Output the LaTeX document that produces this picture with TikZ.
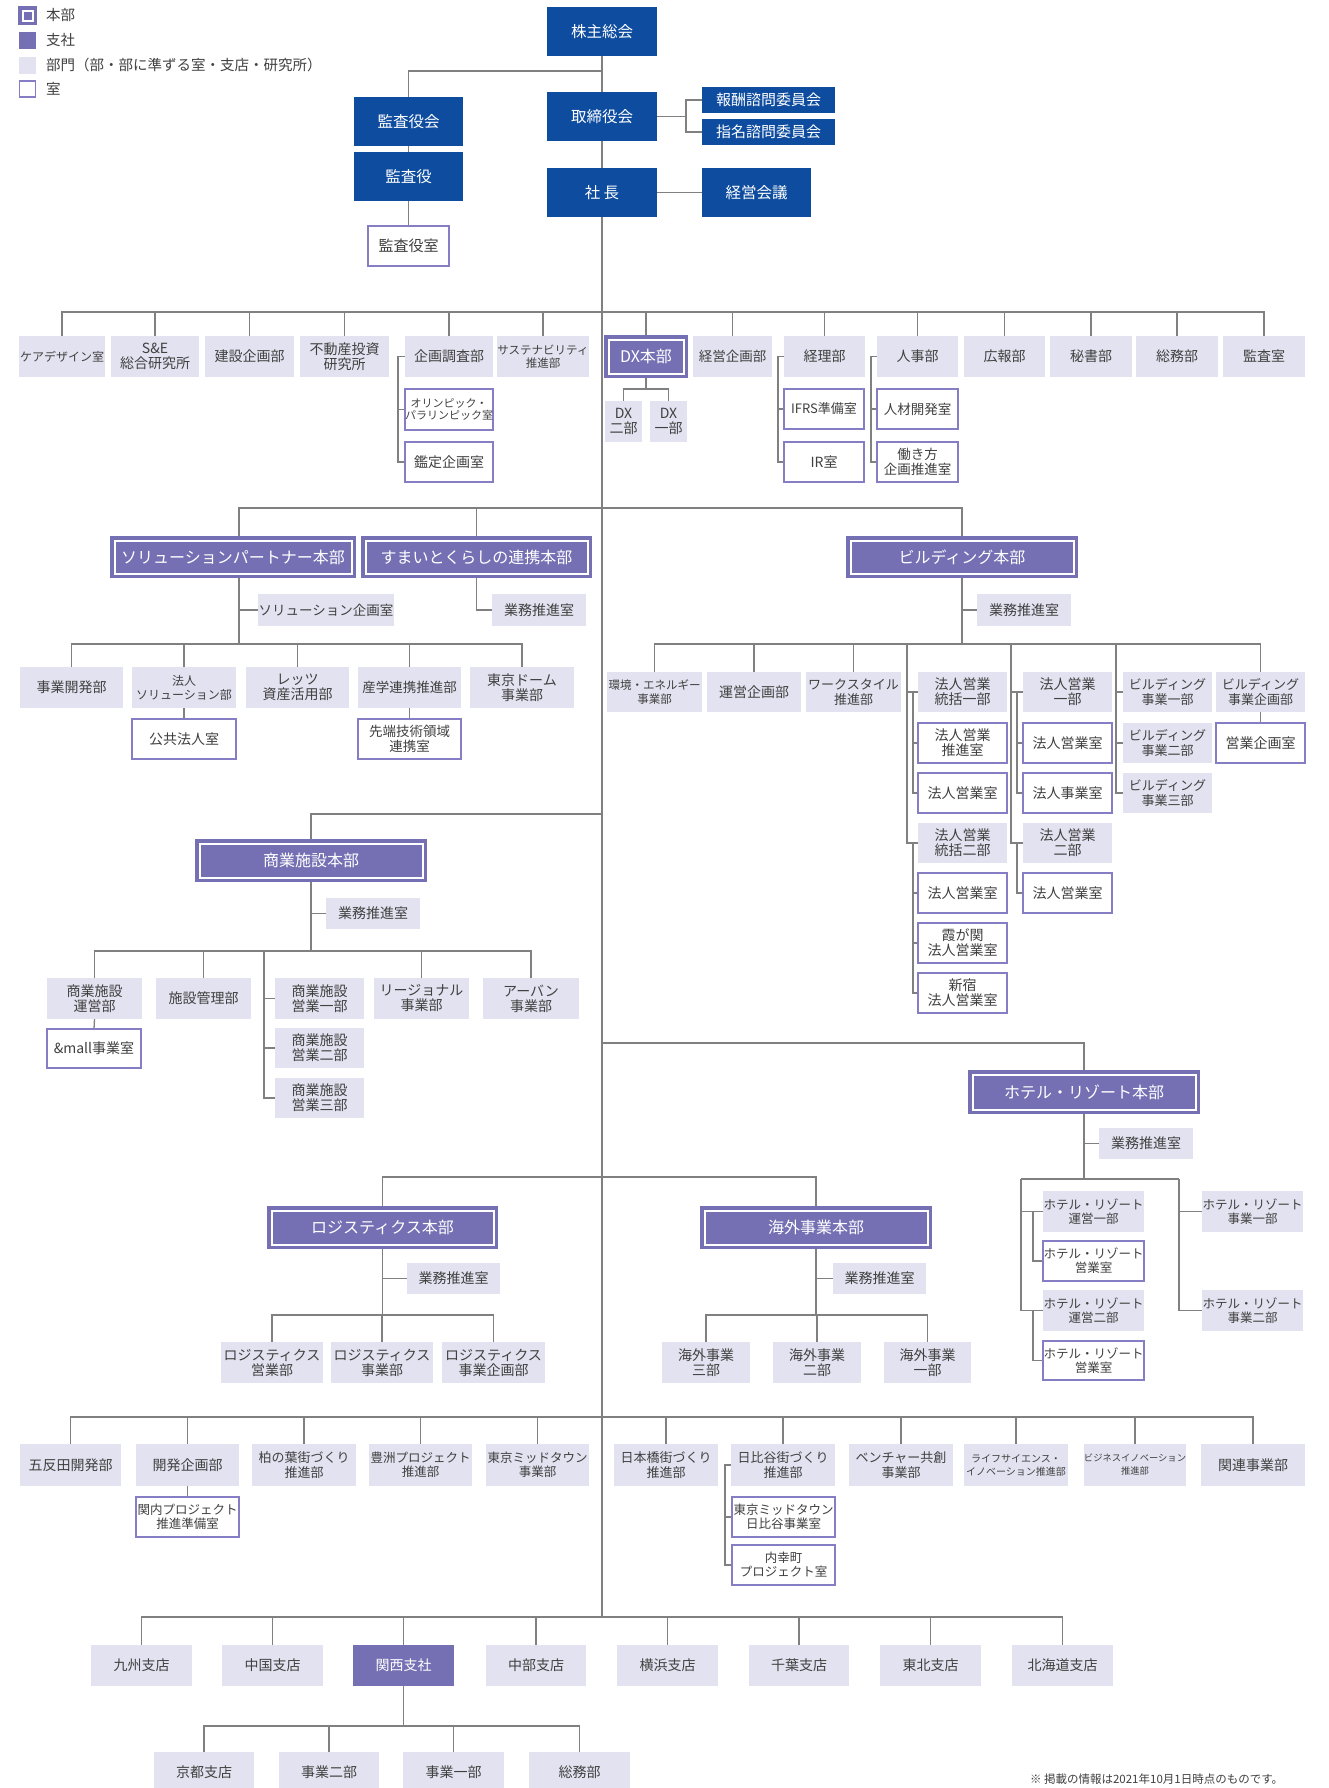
\documentclass[tikz,border=0pt]{standalone}
\usepackage{fontspec}
\setmainfont{Noto Sans CJK JP}
\definecolor{cblue}{RGB}{14,76,159}
\definecolor{cpur}{RGB}{117,112,179}
\definecolor{clight}{RGB}{227,226,240}
\definecolor{croom}{RGB}{133,126,196}
\definecolor{cline}{RGB}{128,128,128}
\definecolor{ctext}{RGB}{64,64,64}
\pgfdeclarelayer{back}
\pgfdeclarelayer{wires}
\pgfsetlayers{back,wires,main}
\newcommand\fs[2]{\fontsize{#1}{#2}\selectfont}
\newcommand\bx[7]{\node[#1, minimum width={#5-#3}, minimum height={#6-#4}] (#2) at ({(#3+#5)/2},{(#4+#6)/2}) {#7};}
\tikzset{
 sbase/.style={inner sep=0pt, outer sep=0pt, align=center, text=ctext, font=\fs{14}{15}},
 stop/.style={sbase, fill=cblue, text=white, font=\fs{15.5}{17}},
 shq/.style={sbase, fill=cpur, draw=cpur, line width=1.5pt, text=white, font=\fs{16}{18},
   path picture={\draw[white, line width=2pt] ([shift={(3.5pt,-3.5pt)}]path picture bounding box.north west) rectangle ([shift={(-3.5pt,3.5pt)}]path picture bounding box.south east);}},
 sdept/.style={sbase, fill=clight},
 sroom/.style={sbase, fill=white, draw=croom, line width=1.5pt},
 sbranch/.style={sbase, fill=cpur, text=white},
 sconn/.style={draw=cline, line width=1.3pt},
}
\begin{document}
\begin{tikzpicture}[x=1pt,y=-1pt]
\begin{pgfonlayer}{back}
\fill[white] (0,0) rectangle (1329,1788);
\end{pgfonlayer}
\useasboundingbox (0,0) rectangle (1329,1788);

% legend
\node[shq, minimum width=17, minimum height=17] (lg1) at (27.5,15.5) {};
\node[sbranch, minimum width=17, minimum height=17] (lg2) at (27.5,40) {};
\node[sdept, minimum width=17, minimum height=17] (lg3) at (27.5,65) {};
\node[sroom, minimum width=16, minimum height=16] (lg4) at (27.5,89) {};
\node[sbase, anchor=west, font=\fs{14.5}{16}] (lt1) at (46,15.5) {本部};
\node[sbase, anchor=west, font=\fs{14.5}{16}] (lt2) at (46,40) {支社};
\node[sbase, anchor=west, font=\fs{14.5}{16}] (lt3) at (46,65) {部門（部・部に準ずる室・支店・研究所）};
\node[sbase, anchor=west, font=\fs{14.5}{16}] (lt4) at (46,89) {室};

% top
\bx{stop}{gm}{547}{7}{657}{56}{株主総会}
\bx{stop}{board}{547}{92}{657}{141}{取締役会}
\bx{stop}{pres}{547}{168}{657}{217}{社 長}
\bx{stop}{kansakai}{354}{97}{463}{146}{監査役会}
\bx{stop}{kansa}{354}{152}{463}{201}{監査役}
\bx{sroom, font=\fs{15}{16}}{kansashitsu}{368}{226}{449}{266}{監査役室}
\bx{stop, font=\fs{15}{16}}{comp}{702}{87}{835}{113}{報酬諮問委員会}
\bx{stop, font=\fs{15}{16}}{nomi}{702}{119}{835}{145}{指名諮問委員会}
\bx{stop}{mgmt}{702}{168}{811}{217}{経営会議}

% row 2
\bx{sdept, font=\fs{12}{13.5}}{care}{19}{336}{105}{377}{ケアデザイン室}
\bx{sdept}{se}{111}{336}{199}{377}{S\&E\\総合研究所}
\bx{sdept}{kensetsu}{205}{336}{294}{377}{建設企画部}
\bx{sdept}{fudosan}{300}{336}{389}{377}{不動産投資\\研究所}
\bx{sdept}{kikaku}{405}{336}{493}{377}{企画調査部}
\bx{sdept, font=\fs{11.5}{13}}{sustain}{499}{336}{587}{377}{サステナビリティ\\推進部}
\bx{shq}{dx}{605}{336}{687}{377}{DX本部}
\bx{sdept, font=\fs{13.5}{15}}{keiei}{693}{336}{772}{377}{経営企画部}
\bx{sdept}{keiri}{784}{336}{865}{377}{経理部}
\bx{sdept}{jinji}{877}{336}{958}{377}{人事部}
\bx{sdept}{koho}{964}{336}{1045}{377}{広報部}
\bx{sdept}{hisho}{1050}{336}{1132}{377}{秘書部}
\bx{sdept}{somu}{1136}{336}{1218}{377}{総務部}
\bx{sdept}{kansashitsu2}{1223}{336}{1305}{377}{監査室}
\bx{sroom, font=\fs{11}{12.5}}{olympic}{405}{389}{493}{430}{オリンピック・\\パラリンピック室}
\bx{sroom}{kantei}{405}{442}{493}{482}{鑑定企画室}
\bx{sdept}{dxtwo}{605}{401}{642}{442}{DX\\二部}
\bx{sdept}{dxone}{650}{401}{687}{442}{DX\\一部}
\bx{sroom, font=\fs{13}{14}}{ifrs}{784}{389}{864}{429}{IFRS準備室}
\bx{sroom}{ir}{784}{442}{864}{482}{IR室}
\bx{sroom, font=\fs{13.5}{15}}{jinzai}{877}{389}{958}{429}{人材開発室}
\bx{sroom, font=\fs{13.5}{15}}{hataraki}{877}{442}{958}{482}{働き方\\企画推進室}

% solution / sumai
\bx{shq}{sol}{111}{537}{355}{577}{ソリューションパートナー本部}
\bx{shq}{sumai}{362}{537}{591}{577}{すまいとくらしの連携本部}
\bx{sdept, font=\fs{13.5}{15}}{solplan}{258}{594}{394}{626}{ソリューション企画室}
\bx{sdept}{sumaigyomu}{492}{594}{586}{626}{業務推進室}
\bx{sdept}{jigyokaihatsu}{20}{667}{123}{708}{事業開発部}
\bx{sdept, font=\fs{12}{14}}{hojinsol}{132}{667}{236}{708}{法人\\ソリューション部}
\bx{sdept}{lets}{246}{667}{349}{708}{レッツ\\資産活用部}
\bx{sdept, font=\fs{13.5}{15}}{sangaku}{358}{667}{461}{708}{産学連携推進部}
\bx{sdept}{dome}{470}{667}{574}{708}{東京ドーム\\事業部}
\bx{sroom}{kokyo}{132}{719}{236}{759}{公共法人室}
\bx{sroom, font=\fs{13.5}{14.5}}{sentan}{358}{719}{461}{759}{先端技術領域\\連携室}

% building
\bx{shq}{bldg}{847}{537}{1077}{577}{ビルディング本部}
\bx{sdept}{bldggyomu}{977}{594}{1071}{626}{業務推進室}
\bx{sdept, font=\fs{11.5}{14}}{env}{607}{672}{702}{712}{環境・エネルギー\\事業部}
\bx{sdept}{uneikikaku}{707}{672}{801}{712}{運営企画部}
\bx{sdept, font=\fs{13}{14.5}}{workstyle}{806}{672}{901}{712}{ワークスタイル\\推進部}
\bx{sdept}{toukatsuA}{918}{672}{1007}{712}{法人営業\\統括一部}
\bx{sroom}{suishin}{918}{723}{1007}{763}{法人営業\\推進室}
\bx{sroom}{hojinroomA}{918}{773}{1007}{813}{法人営業室}
\bx{sdept}{toukatsuB}{918}{823}{1007}{863}{法人営業\\統括二部}
\bx{sroom}{hojinroomB}{918}{873}{1007}{913}{法人営業室}
\bx{sroom}{kasumi}{918}{923}{1007}{963}{霞が関\\法人営業室}
\bx{sroom}{shinjuku}{918}{973}{1007}{1013}{新宿\\法人営業室}
\bx{sdept}{hojinA}{1023}{672}{1112}{712}{法人営業\\一部}
\bx{sroom}{hojinroomC}{1023}{723}{1112}{763}{法人営業室}
\bx{sroom}{hojinjigyo}{1023}{773}{1112}{813}{法人事業室}
\bx{sdept}{hojinB}{1023}{823}{1112}{863}{法人営業\\二部}
\bx{sroom}{hojinroomD}{1023}{873}{1112}{913}{法人営業室}
\bx{sdept, font=\fs{13}{14.5}}{bldgone}{1123}{672}{1212}{712}{ビルディング\\事業一部}
\bx{sdept, font=\fs{13}{14.5}}{bldgtwo}{1123}{723}{1212}{763}{ビルディング\\事業二部}
\bx{sdept, font=\fs{13}{14.5}}{bldgthree}{1123}{773}{1212}{813}{ビルディング\\事業三部}
\bx{sdept, font=\fs{13}{14.5}}{bldgplan}{1216}{672}{1305}{712}{ビルディング\\事業企画部}
\bx{sroom}{eigyokikaku}{1216}{723}{1305}{763}{営業企画室}

% commercial
\bx{shq}{shop}{196}{840}{426}{881}{商業施設本部}
\bx{sdept}{shopgyomu}{326}{898}{420}{929}{業務推進室}
\bx{sdept}{unei}{47}{978}{142}{1019}{商業施設\\運営部}
\bx{sdept}{shisetsu}{156}{978}{251}{1019}{施設管理部}
\bx{sdept}{eigyoA}{275}{978}{364}{1019}{商業施設\\営業一部}
\bx{sdept}{eigyoB}{275}{1028}{364}{1068}{商業施設\\営業二部}
\bx{sdept}{eigyoC}{275}{1078}{364}{1118}{商業施設\\営業三部}
\bx{sdept}{regional}{374}{978}{469}{1019}{リージョナル\\事業部}
\bx{sdept}{urban}{483}{978}{579}{1019}{アーバン\\事業部}
\bx{sroom}{mall}{47}{1029}{141}{1068}{\&mall事業室}

% hotel
\bx{shq}{hotel}{969}{1071}{1199}{1113}{ホテル・リゾート本部}
\bx{sdept}{hotelgyomu}{1099}{1128}{1193}{1159}{業務推進室}
\bx{sdept, font=\fs{12.5}{14}}{huneiA}{1043}{1191}{1144}{1232}{ホテル・リゾート\\運営一部}
\bx{sroom, font=\fs{12.5}{14}}{heigyoA}{1043}{1241}{1144}{1281}{ホテル・リゾート\\営業室}
\bx{sdept, font=\fs{12.5}{14}}{huneiB}{1043}{1290}{1144}{1331}{ホテル・リゾート\\運営二部}
\bx{sroom, font=\fs{12.5}{14}}{heigyoB}{1043}{1341}{1144}{1380}{ホテル・リゾート\\営業室}
\bx{sdept, font=\fs{12.5}{14}}{hjigyoA}{1202}{1191}{1303}{1232}{ホテル・リゾート\\事業一部}
\bx{sdept, font=\fs{12.5}{14}}{hjigyoB}{1202}{1290}{1303}{1331}{ホテル・リゾート\\事業二部}

% logistics / overseas
\bx{shq}{logi}{268}{1207}{497}{1248}{ロジスティクス本部}
\bx{sdept}{logigyomu}{407}{1263}{500}{1294}{業務推進室}
\bx{sdept}{logiA}{221}{1342}{323}{1383}{ロジスティクス\\営業部}
\bx{sdept}{logiB}{331}{1342}{433}{1383}{ロジスティクス\\事業部}
\bx{sdept}{logiC}{442}{1342}{545}{1383}{ロジスティクス\\事業企画部}
\bx{shq}{kaigai}{701}{1207}{931}{1248}{海外事業本部}
\bx{sdept}{kaigaigyomu}{833}{1263}{926}{1294}{業務推進室}
\bx{sdept}{kaigaiC}{662}{1342}{750}{1383}{海外事業\\三部}
\bx{sdept}{kaigaiB}{773}{1342}{861}{1383}{海外事業\\二部}
\bx{sdept}{kaigaiA}{884}{1342}{971}{1383}{海外事業\\一部}

% bottom row
\bx{sdept}{gotanda}{20}{1444}{121}{1486}{五反田開発部}
\bx{sdept}{kaihatsu}{136}{1444}{239}{1486}{開発企画部}
\bx{sdept, font=\fs{13}{14.5}}{kashiwa}{252}{1444}{356}{1486}{柏の葉街づくり\\推進部}
\bx{sdept, font=\fs{12.5}{14}}{toyosu}{369}{1444}{472}{1486}{豊洲プロジェクト\\推進部}
\bx{sdept, font=\fs{12.5}{14}}{midtown}{486}{1444}{589}{1486}{東京ミッドタウン\\事業部}
\bx{sdept, font=\fs{13}{14.5}}{nihonbashi}{614}{1444}{718}{1486}{日本橋街づくり\\推進部}
\bx{sdept, font=\fs{13}{14.5}}{hibiya}{731}{1444}{835}{1486}{日比谷街づくり\\推進部}
\bx{sdept, font=\fs{13}{14.5}}{venture}{849}{1444}{953}{1486}{ベンチャー共創\\事業部}
\bx{sdept, font=\fs{10}{13}}{life}{964}{1444}{1068}{1486}{ライフサイエンス・\\イノベーション推進部}
\bx{sdept, font=\fs{9.3}{13}}{bizinno}{1084}{1444}{1186}{1486}{ビジネスイノベーション\\推進部}
\bx{sdept}{kanren}{1201}{1444}{1305}{1486}{関連事業部}
\bx{sroom, font=\fs{12.5}{14}}{kannai}{136}{1497}{239}{1537}{関内プロジェクト\\推進準備室}
\bx{sroom, font=\fs{12.5}{14}}{hibiyamid}{732}{1497}{835}{1537}{東京ミッドタウン\\日比谷事業室}
\bx{sroom, font=\fs{12.5}{14}}{uchisaiwai}{732}{1545}{835}{1585}{内幸町\\プロジェクト室}

% branches
\bx{sdept}{kyushu}{91}{1645}{192}{1686}{九州支店}
\bx{sdept}{chugoku}{222}{1645}{323}{1686}{中国支店}
\bx{sbranch}{kansai}{353}{1645}{454}{1686}{関西支社}
\bx{sdept}{chubu}{486}{1645}{586}{1686}{中部支店}
\bx{sdept}{yokohama}{617}{1645}{718}{1686}{横浜支店}
\bx{sdept}{chiba}{749}{1645}{849}{1686}{千葉支店}
\bx{sdept}{tohoku}{880}{1645}{981}{1686}{東北支店}
\bx{sdept}{hokkaido}{1012}{1645}{1113}{1686}{北海道支店}
\bx{sdept}{kyoto}{154}{1752}{254}{1793}{京都支店}
\bx{sdept}{kjigyoB}{279}{1752}{379}{1793}{事業二部}
\bx{sdept}{kjigyoA}{403}{1752}{504}{1793}{事業一部}
\bx{sdept}{ksomu}{529}{1752}{630}{1793}{総務部}
\node[sbase, anchor=west, font=\fs{11.5}{13}] (note) at (1030,1779) {※ 掲載の情報は2021年10月1日時点のものです。};

% ---------- connectors (behind the boxes) ----------
\begin{pgfonlayer}{wires}
\coordinate (trunkbot) at (602,1617);
\draw[sconn] (gm.south) -- (trunkbot);
\draw[sconn] (gm.south |- 0,71) -| (kansakai.north);
\draw[sconn] (kansakai.south) -- (kansa.north);
\draw[sconn] (kansa.south) -- (kansashitsu.north);
\coordinate (bsplit) at (686,116.5);
\draw[sconn] (board.east) -- (bsplit);
\draw[sconn] (comp.west) -| (bsplit) |- (nomi.west);
\draw[sconn] (pres.east) -- (mgmt.west);

% row 2
\draw[sconn] (care.north) |- (kansashitsu2.north |- 0,312) -- (kansashitsu2.north);
\foreach \n in {se,kensetsu,fudosan,kikaku,sustain,dx,keiei,keiri,jinji,koho,hisho,somu}
  \draw[sconn] (\n.north) -- (\n.north |- 0,312);
\draw[sconn] (kikaku.west) -- ++(-7,0) |- (kantei.west);
\draw[sconn] (olympic.west) -- ++(-7,0);
\draw[sconn] (dx.south) -- (dx.south |- 0,389);
\draw[sconn] (dxtwo.north) |- (dxone.north |- 0,389) -- (dxone.north);
\draw[sconn] (keiri.west) -- ++(-6,0) |- (ir.west);
\draw[sconn] (ifrs.west) -- ++(-6,0);
\draw[sconn] (jinji.west) -- ++(-6,0) |- (hataraki.west);
\draw[sconn] (jinzai.west) -- ++(-6,0);

% solution / sumai / building bus
\coordinate (soltop) at ([xshift=6pt]sol.north);
\coordinate (solbot) at ([xshift=6pt]sol.south);
\draw[sconn] (soltop) |- (bldg.north |- 0,508) -- (bldg.north);
\draw[sconn] (sumai.north) -- (sumai.north |- 0,508);
\draw[sconn] (solbot) -- (solbot |- 0,644);
\draw[sconn] (solplan.west) -- (solplan.west -| solbot);
\draw[sconn] (sumai.south) |- (sumaigyomu.west);
\draw[sconn] (jigyokaihatsu.north) |- (dome.north |- 0,644) -- (dome.north);
\foreach \n in {hojinsol,lets,sangaku}
  \draw[sconn] (\n.north) -- (\n.north |- 0,644);
\draw[sconn] (hojinsol.south) -- (kokyo.north);
\draw[sconn] (sangaku.south) -- (sentan.north);

% building
\draw[sconn] (bldg.south) -- (bldg.south |- 0,644);
\draw[sconn] (bldggyomu.west) -- (bldggyomu.west -| bldg.south);
\draw[sconn] (env.north) |- (bldgplan.north |- 0,644) -- (bldgplan.north);
\foreach \n in {uneikikaku,workstyle}
  \draw[sconn] (\n.north) -- (\n.north |- 0,644);
\coordinate (colA) at (907,644);
\coordinate (colB) at (1011,644);
\coordinate (colC) at (1116,644);
\draw[sconn] (colA) |- (toukatsuB.west);
\draw[sconn] (toukatsuA.west) -- (toukatsuA.west -| colA);
\draw[sconn] ([xshift=-5pt]toukatsuA.west) |- (hojinroomA.west);
\draw[sconn] (suishin.west) -- ++(-5,0);
\draw[sconn] ([xshift=-5pt]toukatsuB.west) |- (shinjuku.west);
\draw[sconn] (hojinroomB.west) -- ++(-5,0);
\draw[sconn] (kasumi.west) -- ++(-5,0);
\draw[sconn] (colB) |- (hojinB.west);
\draw[sconn] (hojinA.west) -- (hojinA.west -| colB);
\draw[sconn] ([xshift=-6pt]hojinA.west) |- (hojinjigyo.west);
\draw[sconn] (hojinroomC.west) -- ++(-6,0);
\draw[sconn] ([xshift=-6pt]hojinB.west) |- (hojinroomD.west);
\draw[sconn] (colC) |- (bldgthree.west);
\draw[sconn] (bldgone.west) -- (bldgone.west -| colC);
\draw[sconn] (bldgtwo.west) -- (bldgtwo.west -| colC);
\draw[sconn] (bldgplan.south) -- (eigyokikaku.north);

% commercial
\draw[sconn] (shop.north) |- (gm.south |- 0,814);
\draw[sconn] (shop.south) -- (shop.south |- 0,951);
\draw[sconn] (shopgyomu.west) -- (shopgyomu.west -| shop.south);
\draw[sconn] (unei.north) |- (urban.north |- 0,951) -- (urban.north);
\foreach \n in {shisetsu,regional}
  \draw[sconn] (\n.north) -- (\n.north |- 0,951);
\coordinate (colS) at (264,951);
\draw[sconn] (colS) |- (eigyoC.west);
\draw[sconn] (eigyoA.west) -- (eigyoA.west -| colS);
\draw[sconn] (eigyoB.west) -- (eigyoB.west -| colS);
\draw[sconn] (unei.south) -- (mall.north);

% hotel
\draw[sconn] (hotel.north) |- (gm.south |- 0,1043);
\draw[sconn] (hotel.south) -- (hotel.south |- 0,1179);
\draw[sconn] (hotelgyomu.west) -- (hotelgyomu.west -| hotel.south);
\coordinate (colH) at (1021,1179);
\coordinate (colJ) at (1179,1179);
\draw[sconn] (colH) -- (colJ);
\draw[sconn] (colH) |- (huneiB.west);
\draw[sconn] (huneiA.west) -- (huneiA.west -| colH);
\draw[sconn] ([xshift=-10pt]huneiA.west) |- (heigyoA.west);
\draw[sconn] ([xshift=-10pt]huneiB.west) |- (heigyoB.west);
\draw[sconn] (colJ) |- (hjigyoB.west);
\draw[sconn] (hjigyoA.west) -- (hjigyoA.west -| colJ);

% logistics / overseas
\draw[sconn] (logi.north) |- (kaigai.north |- 0,1177) -- (kaigai.north);
\draw[sconn] (logi.south) -- (logi.south |- 0,1315);
\draw[sconn] (logigyomu.west) -- (logigyomu.west -| logi.south);
\draw[sconn] (logiA.north) |- (logiC.north |- 0,1315) -- (logiC.north);
\draw[sconn] (logiB.north) -- (logiB.north |- 0,1315);
\draw[sconn] (kaigai.south) -- (kaigai.south |- 0,1315);
\draw[sconn] (kaigaigyomu.west) -- (kaigaigyomu.west -| kaigai.south);
\draw[sconn] (kaigaiC.north) |- (kaigaiA.north |- 0,1315) -- (kaigaiA.north);
\draw[sconn] (kaigaiB.north) -- (kaigaiB.north |- 0,1315);

% bottom row
\draw[sconn] (gotanda.north) |- (kanren.north |- 0,1417) -- (kanren.north);
\foreach \n in {kaihatsu,kashiwa,toyosu,midtown,nihonbashi,hibiya,venture,life,bizinno}
  \draw[sconn] (\n.north) -- (\n.north |- 0,1417);
\draw[sconn] (kaihatsu.south) -- (kannai.north);
\draw[sconn] (hibiya.west) -- ++(-6,0) |- (uchisaiwai.west);
\draw[sconn] (hibiyamid.west) -- ++(-7,0);

% branches
\draw[sconn] (kyushu.north) |- (hokkaido.north |- 0,1617) -- (hokkaido.north);
\foreach \n in {chugoku,kansai,chubu,yokohama,chiba,tohoku}
  \draw[sconn] (\n.north) -- (\n.north |- 0,1617);
\draw[sconn] (kansai.south) -- (kansai.south |- 0,1726);
\draw[sconn] (kyoto.north) |- (ksomu.north |- 0,1726) -- (ksomu.north);
\foreach \n in {kjigyoB,kjigyoA}
  \draw[sconn] (\n.north) -- (\n.north |- 0,1726);
\end{pgfonlayer}
\end{tikzpicture}
\end{document}
